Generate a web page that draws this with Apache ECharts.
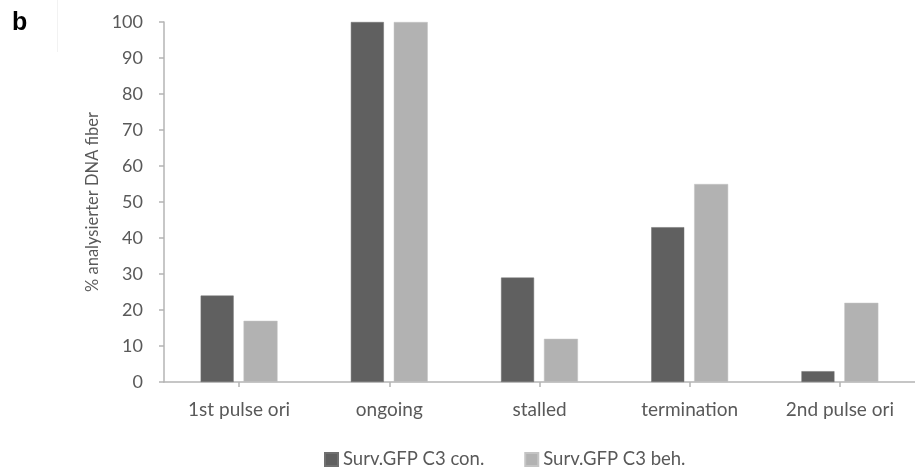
<!DOCTYPE html>
<html>
<head>
<meta charset="utf-8">
<script src="https://cdn.jsdelivr.net/npm/echarts@6/dist/echarts.min.js"></script>
<style>
  html, body { margin: 0; padding: 0; background: #ffffff; }
  #chart { width: 915px; height: 472px; }
</style>
</head>
<body>
<div id="chart"></div>
<script>
// Categories of replication structures scored on DNA fibers
const categories = ['1st pulse ori', 'ongoing', 'stalled', 'termination', '2nd pulse ori'];

// Percent of analysed fibers per category
const seriesNames = ['Surv.GFP C3 con.', 'Surv.GFP C3 beh.'];
const controlValues = [24, 100, 29, 43, 3];
const treatedValues = [17, 100, 12, 55, 22];

// Y axis range
const yMin = 0;
const yMax = 100;
const yStep = 10;

const textColor = '#595959';
const axisColor = '#b4b4b4';
const fontFamily = 'Lato, "Open Sans", sans-serif';

const chart = echarts.init(document.getElementById('chart'), null, { renderer: 'canvas' });

chart.setOption({
  animation: false,
  backgroundColor: '#ffffff',
  textStyle: { fontFamily: fontFamily },
  graphic: [
    {
      type: 'text',
      left: 12,
      top: 11,
      style: { text: 'b', font: 'bold 25px Arial, "Liberation Sans", sans-serif', fill: '#000000' }
    },
    {
      type: 'line',
      shape: { x1: 57.5, y1: 0, x2: 57.5, y2: 52 },
      style: { stroke: '#f2f2f2', lineWidth: 1 }
    }
  ],
  grid: {
    left: 164,
    top: 22,
    width: 753,
    height: 360,
    containLabel: false
  },
  legend: {
    data: seriesNames,
    left: 319,
    top: 445,
    itemWidth: 13,
    itemHeight: 13,
    itemGap: 40,
    icon: 'rect',
    textStyle: { color: textColor, fontSize: 18.5, fontFamily: fontFamily }
  },
  xAxis: {
    type: 'category',
    data: categories,
    boundaryGap: true,
    axisLine: { show: true, lineStyle: { color: axisColor, width: 1.5 } },
    axisTick: { show: true, alignWithLabel: true, length: 5, lineStyle: { color: axisColor, width: 1.5 } },
    axisLabel: { color: textColor, fontSize: 19, margin: 18, fontFamily: fontFamily }
  },
  yAxis: {
    type: 'value',
    min: yMin,
    max: yMax,
    interval: yStep,
    name: '% analysierter DNA fiber',
    nameLocation: 'middle',
    nameRotate: 90,
    nameGap: 63,
    nameTextStyle: { color: textColor, fontSize: 16.5, fontFamily: fontFamily },
    splitLine: { show: false },
    axisLine: { show: true, lineStyle: { color: axisColor, width: 1.5 } },
    axisTick: { show: true, length: 5, lineStyle: { color: axisColor, width: 1.5 } },
    axisLabel: { color: textColor, fontSize: 18, margin: 21, fontFamily: fontFamily }
  },
  series: [
    {
      name: seriesNames[0],
      type: 'bar',
      data: controlValues,
      barWidth: 33,
      barGap: '30%',
      itemStyle: { color: '#606060', borderColor: '#707070', borderWidth: 0.5 }
    },
    {
      name: seriesNames[1],
      type: 'bar',
      data: treatedValues,
      barWidth: 34,
      barGap: '30%',
      itemStyle: { color: '#b2b2b2', borderColor: '#c4c4c4', borderWidth: 0.5 }
    }
  ]
});
</script>
</body>
</html>
